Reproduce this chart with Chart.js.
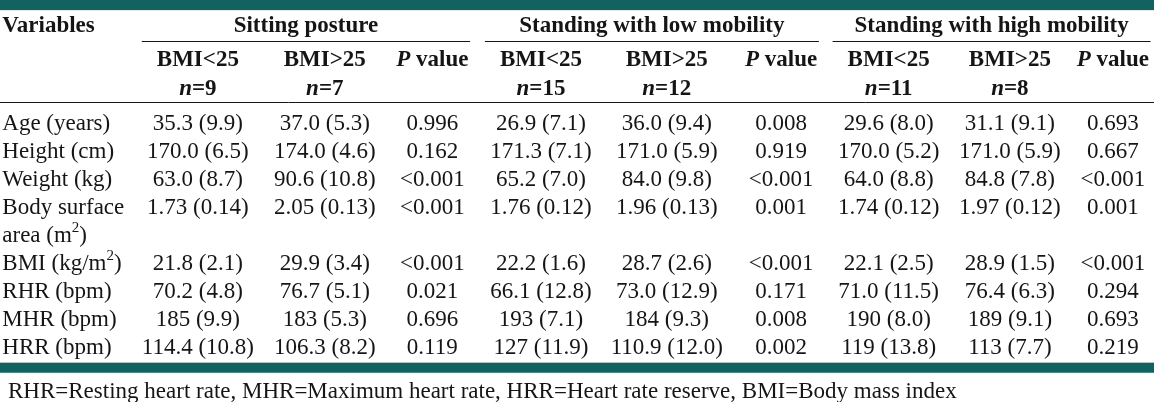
<!DOCTYPE html>
<html>
<head>
<meta charset="utf-8">
<script src="https://cdn.jsdelivr.net/npm/chart.js@4/dist/chart.umd.min.js"></script>
<style>
  html, body { margin: 0; padding: 0; background: #ffffff; }
  #wrap { width: 1154px; height: 402px; }
</style>
</head>
<body>
<div id="wrap"><canvas id="tableChart" width="1154" height="402"></canvas></div>
<script>
const variables = ['Age (years)', 'Height (cm)', 'Weight (kg)', 'Body surface\narea (m^2)', 'BMI (kg/m^2)', 'RHR (bpm)', 'MHR (bpm)', 'HRR (bpm)'];
const groups = ['Sitting posture', 'Standing with low mobility', 'Standing with high mobility'];
const subHeads = ['BMI<25', 'BMI>25', 'P value'];
const groupN = [[9, 7], [15, 12], [11, 8]];

const sittingLow  = ['35.3 (9.9)', '170.0 (6.5)', '63.0 (8.7)', '1.73 (0.14)', '21.8 (2.1)', '70.2 (4.8)', '185 (9.9)', '114.4 (10.8)'];
const sittingHigh = ['37.0 (5.3)', '174.0 (4.6)', '90.6 (10.8)', '2.05 (0.13)', '29.9 (3.4)', '76.7 (5.1)', '183 (5.3)', '106.3 (8.2)'];
const sittingP    = ['0.996', '0.162', '<0.001', '<0.001', '<0.001', '0.021', '0.696', '0.119'];
const lowMobLow   = ['26.9 (7.1)', '171.3 (7.1)', '65.2 (7.0)', '1.76 (0.12)', '22.2 (1.6)', '66.1 (12.8)', '193 (7.1)', '127 (11.9)'];
const lowMobHigh  = ['36.0 (9.4)', '171.0 (5.9)', '84.0 (9.8)', '1.96 (0.13)', '28.7 (2.6)', '73.0 (12.9)', '184 (9.3)', '110.9 (12.0)'];
const lowMobP     = ['0.008', '0.919', '<0.001', '0.001', '<0.001', '0.171', '0.008', '0.002'];
const highMobLow  = ['29.6 (8.0)', '170.0 (5.2)', '64.0 (8.8)', '1.74 (0.12)', '22.1 (2.5)', '71.0 (11.5)', '190 (8.0)', '119 (13.8)'];
const highMobHigh = ['31.1 (9.1)', '171.0 (5.9)', '84.8 (7.8)', '1.97 (0.12)', '28.9 (1.5)', '76.4 (6.3)', '189 (9.1)', '113 (7.7)'];
const highMobP    = ['0.693', '0.667', '<0.001', '0.001', '<0.001', '0.294', '0.693', '0.219'];

const footnote = 'RHR=Resting heart rate, MHR=Maximum heart rate, HRR=Heart rate reserve, BMI=Body mass index';

const columns = [sittingLow, sittingHigh, sittingP, lowMobLow, lowMobHigh, lowMobP, highMobLow, highMobHigh, highMobP];

// ---- layout (scale units) ----
const colPos = [0, 1.11, 2.05, 3, 4.1, 5.1, 6.04, 7.1, 8];
const rowSlot = [0, 1, 2, 3, 5, 6, 7, 8];
const labelX = -1.71;
const noteX = -1.66;
const headY = { bar: [-4.34, -3.98], title: -3.45, line: -2.88, sub: -2.24, n: -1.21, rule: -0.71, foot: [8.56, 8.92], note: 9.54 };

const TEAL = '#12625f';
const INK = '#151515';
const FAMILY = '"Liberation Serif", "Times New Roman", serif';
const REG = '23px ' + FAMILY;
const BOLD = 'bold 23px ' + FAMILY;
const BOLDIT = 'italic bold 23px ' + FAMILY;
const SUP = '15px ' + FAMILY;
const NUDGE = 1.5; // middle baseline sits a little high for serif text

// split "x^2" into segments with a raised small 2
function toSegments(text, font) {
  const segs = [];
  text.split(/(\^\d)/).forEach(p => {
    if (!p) return;
    if (p[0] === '^') segs.push({ t: p.slice(1), font: SUP, dy: -8 });
    else segs.push({ t: p, font: font, dy: 0 });
  });
  return segs;
}

function drawRich(ctx, segs, x, y, align) {
  let total = 0;
  segs.forEach(s => { ctx.font = s.font; s.w = ctx.measureText(s.t).width; total += s.w; });
  let cx = align === 'center' ? x - total / 2 : (align === 'right' ? x - total : x);
  ctx.textAlign = 'left';
  ctx.textBaseline = 'middle';
  segs.forEach(s => { ctx.font = s.font; ctx.fillText(s.t, cx, y + NUDGE + s.dy); cx += s.w; });
}

const tablePlugin = {
  id: 'tableText',
  beforeDraw(chart) {
    const { ctx, scales: { x, y }, width } = chart;
    ctx.save();
    ctx.fillStyle = '#ffffff';
    ctx.fillRect(0, 0, width, chart.height);
    ctx.fillStyle = TEAL;
    const b1 = y.getPixelForValue(headY.bar[0]), b2 = y.getPixelForValue(headY.bar[1]);
    ctx.fillRect(0, b1, width, b2 - b1);
    const f1 = y.getPixelForValue(headY.foot[0]), f2 = y.getPixelForValue(headY.foot[1]);
    ctx.fillRect(0, f1, width, f2 - f1);
    ctx.restore();
  },
  afterDatasetsDraw(chart) {
    const { ctx, scales: { x, y }, width } = chart;
    ctx.save();
    ctx.fillStyle = INK;
    ctx.strokeStyle = INK;
    ctx.lineWidth = 1;

    // header
    drawRich(ctx, [{ t: 'Variables', font: BOLD, dy: 0 }], x.getPixelForValue(labelX), y.getPixelForValue(headY.title), 'left');
    groups.forEach((g, gi) => {
      const first = colPos[gi * 3], last = colPos[gi * 3 + 2];
      const x0 = x.getPixelForValue(first - 0.49);
      const x1 = Math.min(width, x.getPixelForValue(last + 0.33));
      drawRich(ctx, [{ t: g, font: BOLD, dy: 0 }], (x0 + x1) / 2, y.getPixelForValue(headY.title), 'center');
      const ly = Math.round(y.getPixelForValue(headY.line)) + 0.5;
      ctx.beginPath(); ctx.moveTo(x0, ly); ctx.lineTo(x1, ly); ctx.stroke();
      subHeads.forEach((s, si) => {
        const cx = x.getPixelForValue(colPos[gi * 3 + si]);
        const segs = s === 'P value'
          ? [{ t: 'P', font: BOLDIT, dy: 0 }, { t: ' value', font: BOLD, dy: 0 }]
          : [{ t: s, font: BOLD, dy: 0 }];
        drawRich(ctx, segs, cx, y.getPixelForValue(headY.sub), 'center');
        if (si < 2) {
          drawRich(ctx, [{ t: 'n', font: BOLDIT, dy: 0 }, { t: '=' + groupN[gi][si], font: BOLD, dy: 0 }],
            cx, y.getPixelForValue(headY.n), 'center');
        }
      });
    });
    const ry = Math.round(y.getPixelForValue(headY.rule)) + 0.5;
    ctx.beginPath(); ctx.moveTo(0, ry); ctx.lineTo(width, ry); ctx.stroke();

    // cells, placed at the scatter elements
    chart.data.datasets.forEach((ds, di) => {
      const meta = chart.getDatasetMeta(di);
      meta.data.forEach((el, i) => {
        const lines = ds.cells[i].split('\n');
        lines.forEach((ln, k) => {
          const py = k === 0 ? el.y : y.getPixelForValue(ds.data[i].y + k);
          drawRich(ctx, toSegments(ln, REG), el.x, py, ds.align);
        });
      });
    });

    drawRich(ctx, [{ t: footnote, font: REG, dy: 0 }], x.getPixelForValue(noteX), y.getPixelForValue(headY.note), 'left');
    ctx.restore();
  }
};

const datasets = [{
  label: 'Variables',
  cells: variables,
  align: 'left',
  data: variables.map((v, i) => ({ x: labelX, y: rowSlot[i] }))
}].concat(columns.map((col, c) => ({
  label: groups[Math.floor(c / 3)] + ' ' + subHeads[c % 3],
  cells: col,
  align: 'center',
  data: col.map((v, i) => ({ x: colPos[c], y: rowSlot[i] }))
})));

new Chart(document.getElementById('tableChart').getContext('2d'), {
  type: 'scatter',
  data: { datasets: datasets },
  options: {
    responsive: false,
    animation: false,
    devicePixelRatio: 1,
    events: [],
    layout: { padding: 0 },
    elements: { point: { radius: 0, hoverRadius: 0 } },
    plugins: { legend: { display: false }, tooltip: { enabled: false } },
    scales: {
      x: { type: 'linear', min: -1.73, max: 8.36, display: false },
      y: { type: 'linear', min: -4.34, max: 9.96, reverse: true, display: false }
    }
  },
  plugins: [tablePlugin]
});
</script>
</body>
</html>
